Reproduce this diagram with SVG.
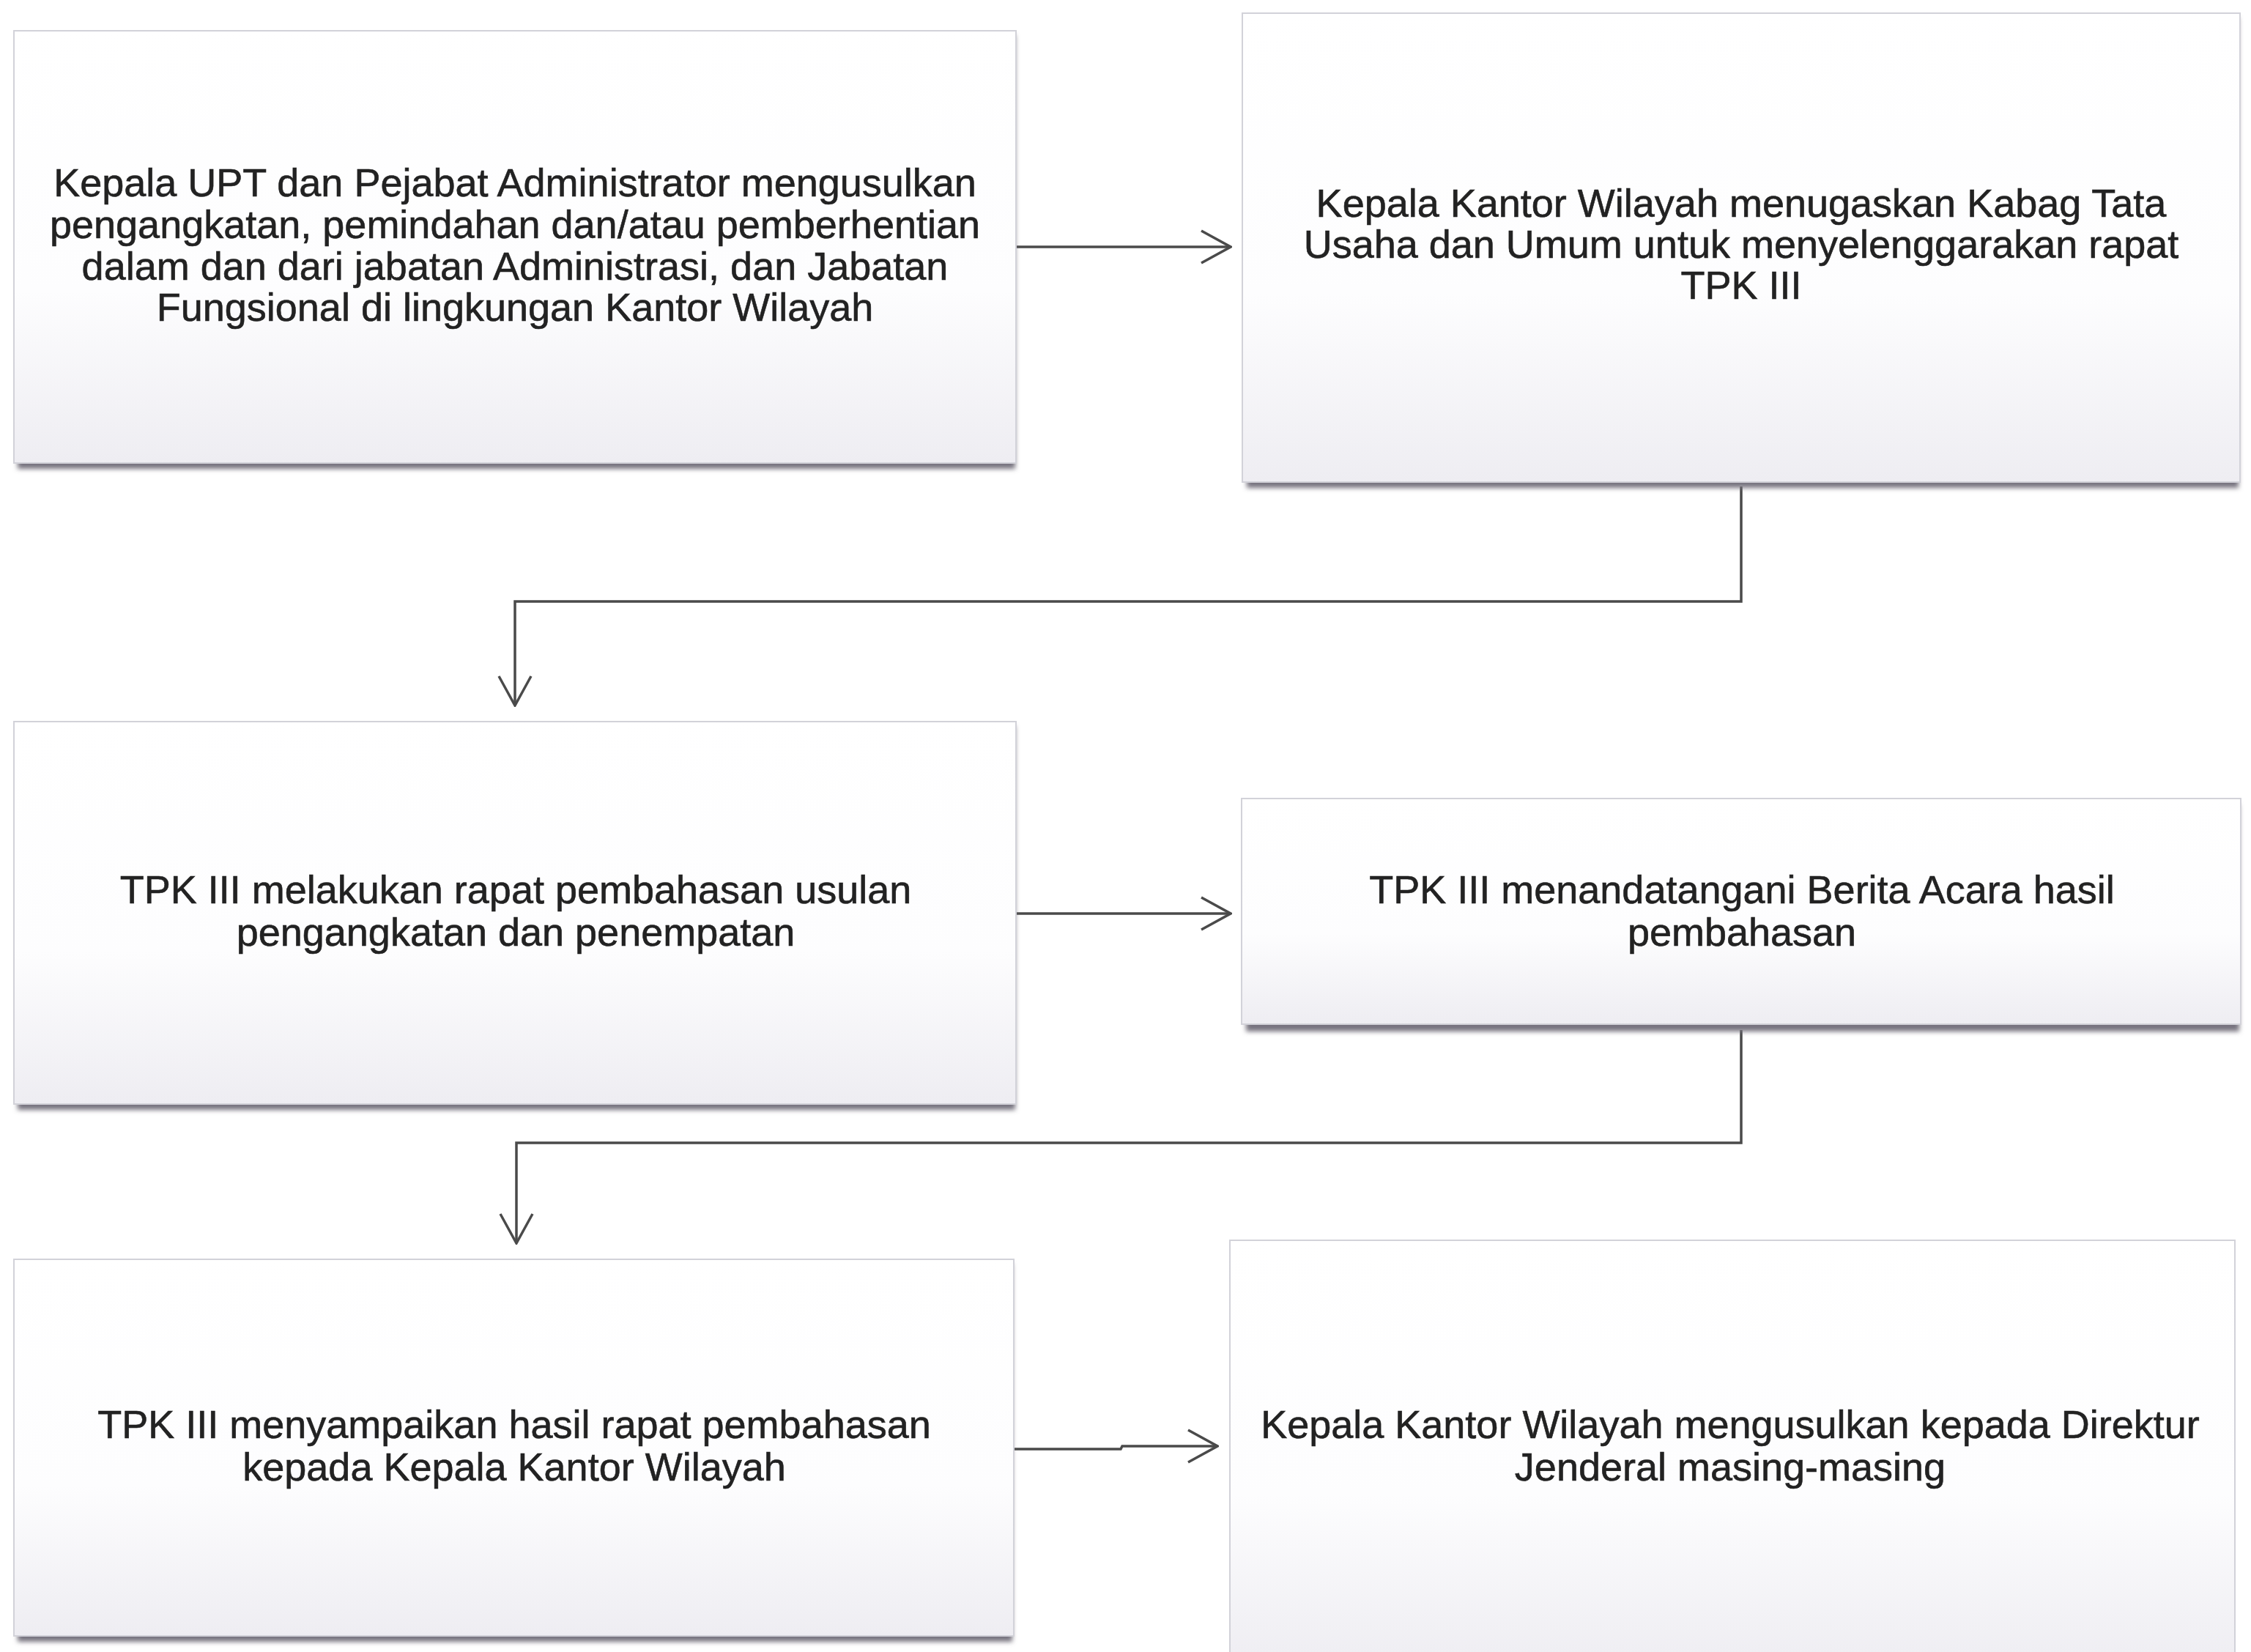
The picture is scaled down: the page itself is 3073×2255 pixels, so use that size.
<svg xmlns="http://www.w3.org/2000/svg" width="3073" height="2255" viewBox="0 0 3073 2255">
  <style>
    .box { fill: url(#boxfill); stroke: #d2d2d9; stroke-width: 2; }
    .shadow { fill: #77737f; filter: url(#blur); }
    .label { font-family: "Liberation Sans", Arial, sans-serif; font-size: 54px; fill: #222222; stroke: #222222; stroke-width: 0.6; text-anchor: middle; }
    .conn { fill: none; stroke: #4a4a4a; stroke-width: 3.5; }
  </style>
  <defs>
    <linearGradient id="boxfill" x1="0" y1="0" x2="0" y2="1">
      <stop offset="0" stop-color="#ffffff"/>
      <stop offset="0.6" stop-color="#fdfdfe"/>
      <stop offset="1" stop-color="#eeedf2"/>
    </linearGradient>
    <filter id="blur" x="-5%" y="-5%" width="110%" height="110%">
      <feGaussianBlur stdDeviation="3"/>
    </filter>
    <marker id="arrow" viewBox="0 0 44 50" refX="42" refY="25" markerWidth="44" markerHeight="50" markerUnits="userSpaceOnUse" orient="auto">
      <path d="M2,3 L42,25 L2,47" fill="none" stroke="#4a4a4a" stroke-width="3.5"/>
    </marker>
  </defs>
  <rect x="0" y="0" width="3073" height="2255" fill="#ffffff"/>

  <g id="connectors">
    <path class="conn" d="M1387,337 L1680,337" marker-end="url(#arrow)"/>
    <path class="conn" d="M2377,664 L2377,821 L703,821 L703,963" marker-end="url(#arrow)"/>
    <path class="conn" d="M1387,1247 L1680,1247" marker-end="url(#arrow)"/>
    <path class="conn" d="M2377,1406 L2377,1560 L705,1560 L705,1697" marker-end="url(#arrow)"/>
    <path class="conn" d="M1384,1978 L1530,1978 L1532,1974 L1662,1974" marker-end="url(#arrow)"/>
  </g>

  <g id="node1">
    <rect class="shadow" x="24" y="48" width="1362" height="592"/>
    <rect class="box" x="19" y="42" width="1368" height="590"/>
    <text class="label" x="703" y="268">Kepala UPT dan Pejabat Administrator mengusulkan</text>
    <text class="label" x="703" y="325">pengangkatan, pemindahan dan/atau pemberhentian</text>
    <text class="label" x="703" y="382">dalam dan dari jabatan Administrasi, dan Jabatan</text>
    <text class="label" x="703" y="438">Fungsional di lingkungan Kantor Wilayah</text>
  </g>

  <g id="node2">
    <rect class="shadow" x="1702" y="24" width="1354" height="642"/>
    <rect class="box" x="1696" y="18" width="1362" height="640"/>
    <text class="label" x="2377" y="296">Kepala Kantor Wilayah menugaskan Kabag Tata</text>
    <text class="label" x="2377" y="352">Usaha dan Umum untuk menyelenggarakan rapat</text>
    <text class="label" x="2377" y="408">TPK III</text>
  </g>

  <g id="node3">
    <rect class="shadow" x="24" y="991" width="1362" height="524"/>
    <rect class="box" x="19" y="985" width="1368" height="522"/>
    <text class="label" x="704" y="1233">TPK III melakukan rapat pembahasan usulan</text>
    <text class="label" x="704" y="1291">pengangkatan dan penempatan</text>
  </g>

  <g id="node4">
    <rect class="shadow" x="1701" y="1098" width="1356" height="310"/>
    <rect class="box" x="1695" y="1090" width="1364" height="308"/>
    <text class="label" x="2378" y="1233">TPK III menandatangani Berita Acara hasil</text>
    <text class="label" x="2378" y="1291">pembahasan</text>
  </g>

  <g id="node5">
    <rect class="shadow" x="24" y="1725" width="1358" height="516"/>
    <rect class="box" x="19" y="1719" width="1365" height="514"/>
    <text class="label" x="702" y="1963">TPK III menyampaikan hasil rapat pembahasan</text>
    <text class="label" x="702" y="2021">kepada Kepala Kantor Wilayah</text>
  </g>

  <g id="node6">
    <rect class="box" x="1679" y="1693" width="1372" height="580"/>
    <text class="label" x="2362" y="1963">Kepala Kantor Wilayah mengusulkan kepada Direktur</text>
    <text class="label" x="2362" y="2021">Jenderal masing-masing</text>
  </g>
</svg>
